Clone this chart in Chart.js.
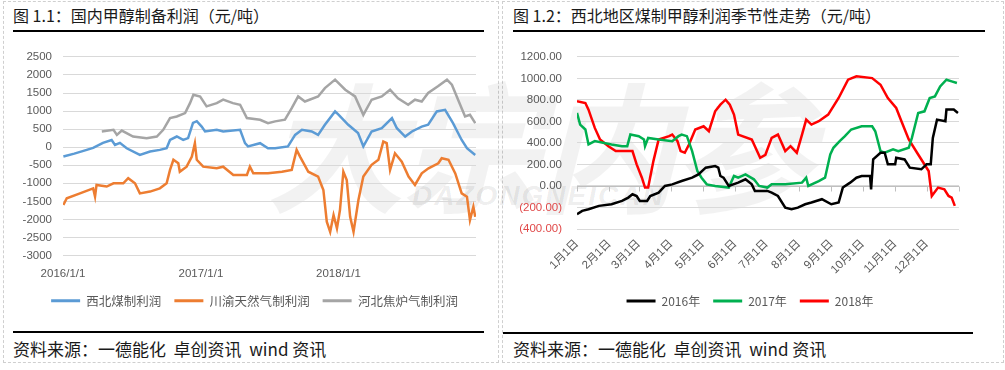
<!DOCTYPE html>
<html><head><meta charset="utf-8">
<script src="https://cdn.jsdelivr.net/npm/chart.js@4.4.1/dist/chart.umd.min.js"></script>
<style>
body{margin:0;background:#fff;width:1005px;height:370px;position:relative;overflow:hidden;font-family:"Noto Sans CJK SC",sans-serif;}
.panel{position:absolute;border:1px dashed #cfcfcf;}
.title{position:absolute;font-size:16px;color:#1a1a1a;white-space:nowrap;line-height:20px;}
.rule{position:absolute;height:2px;background:#000;}
.src{position:absolute;font-size:17px;color:#1a1a1a;white-space:nowrap;line-height:20px;}
.wm{position:absolute;color:rgba(0,0,0,0.05);font-weight:bold;font-style:italic;white-space:nowrap;}
.cv{position:absolute;}
</style></head>
<body>
<div class="panel" style="left:3px;top:1px;width:494px;height:360px"></div>
<div class="panel" style="left:502px;top:1px;width:500px;height:360px"></div>
<div class="wm" style="left:265px;top:40px;font-size:140px;letter-spacing:-4px;">大宗内参</div>
<div class="wm" style="left:412px;top:180px;font-size:28px;font-family:'Liberation Sans';letter-spacing:2px;color:rgba(0,0,0,0.08);">DAZONGNEICAN</div>

<div class="title" style="left:13px;top:5px;">图 1.1：国内甲醇制备利润（元/吨）</div>
<div class="rule" style="left:13px;top:30px;width:471px;"></div>
<div class="title" style="left:513px;top:5px;">图 1.2：西北地区煤制甲醇利润季节性走势（元/吨）</div>
<div class="rule" style="left:513px;top:30px;width:472px;"></div>

<canvas id="c1" class="cv" width="485" height="279" style="left:5px;top:39px;width:485px;height:279px;"></canvas>
<canvas id="c2" class="cv" width="480" height="283" style="left:505px;top:35px;width:480px;height:283px;"></canvas>

<div class="rule" style="left:13px;top:331px;width:471px;"></div>
<div class="src" style="left:13px;top:339px;">资料来源：一德能化&nbsp; 卓创资讯&nbsp; wind 资讯</div>
<div class="rule" style="left:503px;top:332px;width:470px;"></div>
<div class="src" style="left:513px;top:339px;">资料来源：一德能化&nbsp; 卓创资讯&nbsp; wind 资讯</div>

<script>
// ---------- Chart 1.1 data (x = days since 2016/1/1) ----------
const leftSeriesNames = ["西北煤制利润", "川渝天然气制利润", "河北焦炉气制利润"];
const leftTickDays = [0, 366, 731];
const leftTickLabels = ["2016/1/1", "2017/1/1", "2018/1/1"];

const xibeiDays = [1,30,63,80,106,129,138,151,169,204,231,257,275,284,302,319,332,345,355,368,377,408,425,470,483,491,523,544,563,597,616,634,660,677,695,722,731,757,783,797,819,846,873,886,908,926,952,969,992,1014,1035,1058,1072,1094];
const xibeiProfit = [-260,-180,-75,-20,120,200,60,120,-30,-215,-120,-75,-30,200,295,200,250,675,720,570,435,480,435,480,110,20,110,-30,-30,20,340,480,435,340,620,990,900,620,390,20,435,525,805,525,295,435,570,620,990,1035,665,200,-30,-215];

const chuanyuDays = [1,10,45,80,85,89,116,134,160,173,191,204,231,257,275,284,293,306,310,328,342,350,355,372,408,425,452,488,496,505,544,581,607,620,629,651,677,691,700,709,718,727,735,744,753,762,771,784,797,819,837,850,859,868,881,899,917,934,952,970,996,1005,1023,1041,1058,1072,1080,1089,1094];
const chuanyuProfit = [-1600,-1415,-1280,-1140,-1370,-1045,-1090,-1000,-1000,-860,-1000,-1280,-1230,-1140,-1000,-630,-350,-445,-680,-540,-260,110,-350,-540,-585,-540,-770,-770,-540,-725,-725,-680,-630,-75,-260,-680,-815,-1185,-2065,-2345,-1880,-2250,-1740,-680,-910,-1930,-2345,-1465,-815,-490,-350,155,110,-630,-170,-400,-815,-1045,-725,-585,-445,-305,-350,-725,-1280,-1370,-2020,-1650,-1930];

const hebeiDays = [103,134,143,156,186,222,249,266,284,302,324,337,346,364,381,408,425,451,470,488,523,544,563,589,607,624,642,677,695,722,749,775,797,819,846,868,889,916,934,952,969,995,1019,1032,1054,1067,1080,1094];
const hebeiProfit = [435,480,340,460,295,250,295,480,805,850,945,1220,1450,1400,1130,1220,1315,1220,1175,805,760,665,715,760,1080,1405,1265,1405,1635,1870,1590,1405,895,1315,1405,1590,1355,1175,1315,1265,1500,1685,1870,1730,1175,850,895,665];

// ---------- Chart 1.2 data (x = day of year) ----------
const rightSeriesNames = ["2016年", "2017年", "2018年"];
const monthStartDays = [0,31,59,90,120,151,181,212,243,273,304,334];
const monthLabels = ["1月1日","2月1日","3月1日","4月1日","5月1日","6月1日","7月1日","8月1日","9月1日","10月1日","11月1日","12月1日"];

const days2016 = [0,5,11,21,33,43,49,53,57,60,67,70,78,84,91,100,110,116,123,132,135,137,140,145,154,161,167,170,182,186,192,199,205,211,218,224,234,243,250,254,261,267,272,280,281,283,290,294,297,304,305,313,318,329,334,338,340,344,352,353,360,364];
const profit2016 = [-262,-231,-216,-185,-170,-139,-108,-77,-93,-139,-139,-93,-62,0,15,46,77,108,170,185,170,93,77,0,31,62,15,-46,-46,-62,-93,-201,-216,-201,-170,-154,-123,-170,-154,-15,31,77,93,93,-31,247,309,309,201,201,262,247,170,155,201,201,447,617,602,710,710,679];

const days2017 = [0,3,8,11,17,33,43,48,51,59,64,65,68,78,91,97,100,105,110,115,119,124,132,145,150,154,161,169,174,182,186,199,215,219,221,231,237,242,245,251,256,262,272,282,285,290,294,302,307,317,320,326,332,337,342,347,353,358,363];
const profit2017 = [679,571,525,386,417,386,370,370,478,463,432,370,447,432,417,463,478,463,324,139,77,15,0,-15,93,77,108,62,0,-15,15,15,31,77,0,46,77,293,355,417,463,525,555,555,509,324,309,340,324,355,447,679,694,818,833,926,988,972,957];

const days2018 = [0,8,11,17,22,30,37,53,57,62,65,68,73,78,88,91,96,99,103,107,113,121,126,132,137,142,146,150,154,167,175,180,186,192,199,204,210,215,219,224,231,240,250,259,267,282,290,297,305,310,317,326,336,339,345,351,355,358,361];
const profit2018 = [787,771,710,540,432,370,324,324,201,77,-15,-15,231,432,463,478,417,324,309,386,525,555,509,694,756,802,756,664,478,432,262,290,447,478,324,370,309,478,617,571,602,664,818,988,1019,1003,941,818,725,602,432,293,139,-93,-15,-31,-93,-108,-185];

// ---------- helpers ----------
const pts = (xs, ys) => xs.map((x, i) => ({x: x, y: ys[i]}));
const axisFont = {family: '"Liberation Sans","Noto Sans CJK SC",sans-serif', size: 11.5};
const legendFont = {family: '"Noto Sans CJK SC",sans-serif', size: 12.5};
const flatLegend = (chart) => Chart.defaults.plugins.legend.labels.generateLabels(chart).map(l => Object.assign(l, {lineWidth: 0, fillStyle: l.strokeStyle}));
const line = (label, data, color) => ({label, data, borderColor: color, backgroundColor: color, borderWidth: 2.5, pointRadius: 0, tension: 0, fill: false});
const shiftLegend = dx => ({id: 'shiftLegend', afterLayout(chart) { if (chart.legend) { chart.legend.left += dx; chart.legend.right += dx; } }});

// ---------- Chart 1.1 ----------
new Chart(document.getElementById('c1'), {
  type: 'line',
  data: {datasets: [
    line(leftSeriesNames[0], pts(xibeiDays, xibeiProfit), '#5B9BD5'),
    line(leftSeriesNames[1], pts(chuanyuDays, chuanyuProfit), '#ED7D31'),
    line(leftSeriesNames[2], pts(hebeiDays, hebeiProfit), '#A5A5A5')
  ]},
  plugins: [shiftLegend(14)],
  options: {
    animation: false, responsive: false, maintainAspectRatio: false,
    layout: {padding: {left: 0, right: 14, top: 17, bottom: 1}},
    plugins: {
      tooltip: {enabled: false},
      legend: {position: 'bottom', labels: {boxWidth: 29, boxHeight: 3, padding: 13, color: '#595959', font: legendFont, generateLabels: flatLegend}}
    },
    scales: {
      x: {type: 'linear', min: 0, max: 1096,
          afterBuildTicks: s => { s.ticks = leftTickDays.map(v => ({value: v})); },
          ticks: {autoSkip: false, maxRotation: 0, padding: 11, color: '#595959', font: axisFont,
                  callback: (v, i) => leftTickLabels[i]},
          grid: {display: false, drawTicks: false}, border: {display: false},
          afterFit: s => { s.height = 26; }},
      y: {min: -3000, max: 2500,
          ticks: {stepSize: 500, padding: 11, color: '#595959', font: axisFont, callback: v => String(v)},
          grid: {color: '#d9d9d9', drawTicks: false}, border: {display: false},
          afterFit: s => { s.width = 58; }}
    }
  }
});

// ---------- Chart 1.2 ----------
const zeroAxis = {
  id: 'zeroAxis',
  beforeDatasetsDraw(chart) {
    const {ctx, chartArea, scales} = chart;
    const yy = Math.round(scales.y.getPixelForValue(0)) + 0.5;
    ctx.save();
    ctx.strokeStyle = '#bfbfbf'; ctx.lineWidth = 1;
    ctx.beginPath();
    ctx.moveTo(chartArea.left, yy); ctx.lineTo(chartArea.right, yy);
    monthStartDays.concat([365]).forEach(d => {
      const xx = Math.round(scales.x.getPixelForValue(d)) + 0.5;
      ctx.moveTo(xx, yy); ctx.lineTo(xx, yy + 5);
    });
    ctx.stroke(); ctx.restore();
  }
};

new Chart(document.getElementById('c2'), {
  type: 'line',
  data: {datasets: [
    line(rightSeriesNames[0], pts(days2016, profit2016), '#000000'),
    line(rightSeriesNames[1], pts(days2017, profit2017), '#00B050'),
    line(rightSeriesNames[2], pts(days2018, profit2018), '#FF0000')
  ]},
  plugins: [zeroAxis, shiftLegend(18)],
  options: {
    animation: false, responsive: false, maintainAspectRatio: false,
    layout: {padding: {left: 0, right: 26, top: 12, bottom: 1}},
    plugins: {
      tooltip: {enabled: false},
      legend: {position: 'bottom', labels: {boxWidth: 29, boxHeight: 3, padding: 13, color: '#595959', font: {family: legendFont.family, size: 12}, generateLabels: flatLegend}}
    },
    scales: {
      x: {type: 'linear', min: 0, max: 365,
          afterBuildTicks: s => { s.ticks = monthStartDays.map(v => ({value: v})); },
          ticks: {autoSkip: false, minRotation: 45, maxRotation: 45, padding: 8, color: '#595959',
                  font: {family: axisFont.family, size: 11.5}, callback: (v, i) => monthLabels[i]},
          grid: {display: false, drawTicks: false}, border: {display: false},
          afterFit: s => { s.height = 53; }},
      y: {min: -400, max: 1200,
          ticks: {stepSize: 200, padding: 15, font: axisFont,
                  color: c => (c.tick && c.tick.value < 0) ? '#E04848' : '#595959',
                  callback: v => v < 0 ? '(' + Math.abs(v).toFixed(2) + ')' : v.toFixed(2)},
          grid: {color: '#d9d9d9', drawTicks: false}, border: {display: false},
          afterFit: s => { s.width = 72; }}
    }
  }
});
</script>
</body></html>
